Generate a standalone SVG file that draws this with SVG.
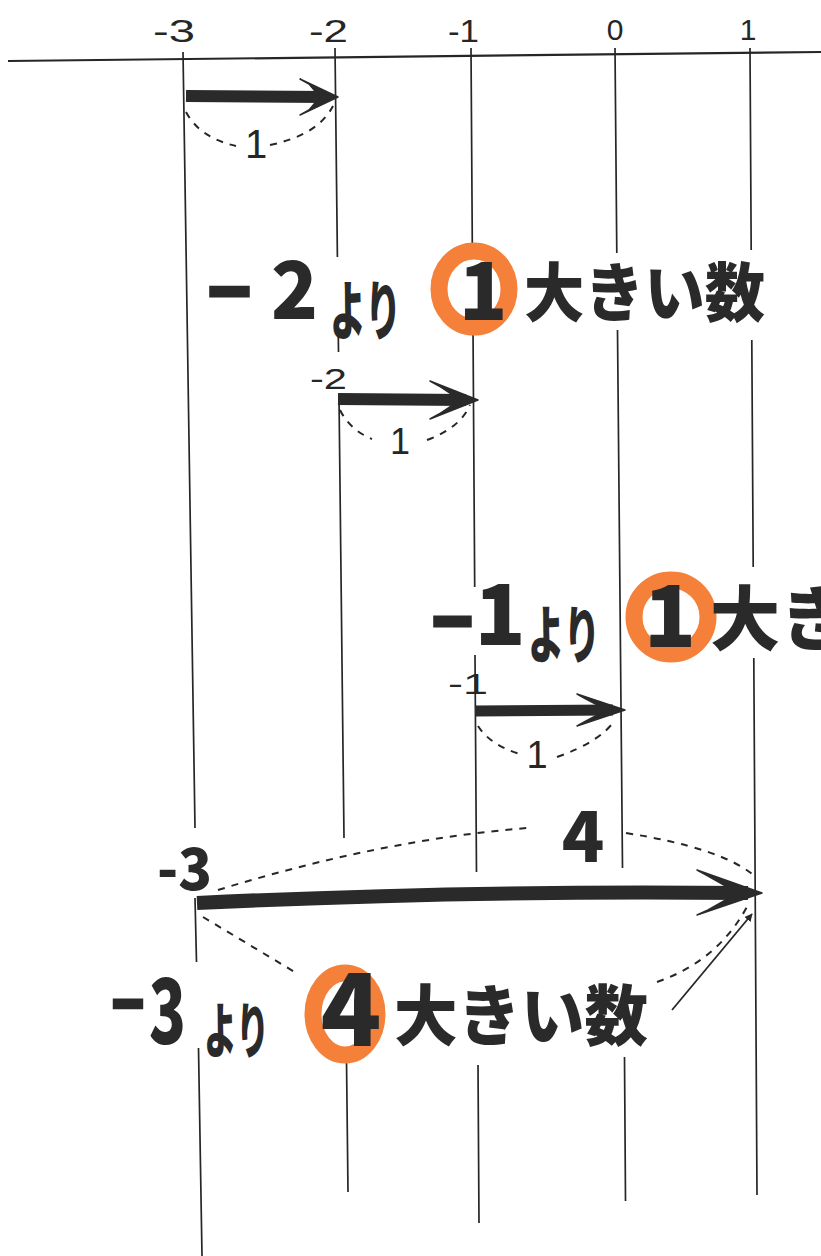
<svg xmlns="http://www.w3.org/2000/svg" width="821" height="1256" viewBox="0 0 821 1256">
  <style>
    .bg { fill: #ffffff; }
    .axis { stroke: #262626; stroke-width: 2.2; fill: none; }
    .grid { stroke: #262626; stroke-width: 1.7; fill: none; }
    .shaft { stroke: #2a2a2a; fill: none; stroke-linecap: butt; }
    .head { fill: #2a2a2a; stroke: #2a2a2a; stroke-width: 1.5; stroke-linejoin: round; }
    .dash { stroke: #262626; stroke-width: 2; fill: none; stroke-dasharray: 7 7; }
    .thin { stroke: #262626; stroke-width: 1.8; fill: none; }
    .ring { fill: none; stroke: #F5803A; stroke-width: 17; }
    .lbl { font-family: "Liberation Sans", "DejaVu Sans", sans-serif; fill: #262626; }
    .big { font-family: "Noto Sans CJK JP", "Noto Sans", sans-serif; font-weight: 900; fill: #2a2a2a; }
    .thick { stroke: #2a2a2a; stroke-width: 3; }
  </style>
  <defs>
    <marker id="tri" viewBox="0 0 10 10" refX="9" refY="5" markerWidth="8" markerHeight="8" orient="auto" markerUnits="userSpaceOnUse">
      <path d="M0,0 L10,5 L0,10 Z" fill="#262626"/>
    </marker>
  </defs>
  <rect class="bg" x="0" y="0" width="821" height="1256"/>

  <g id="number-line">
    <path class="axis" d="M8,61 L821,52"/>
    <text class="lbl" x="153" y="42" font-size="32" textLength="42" lengthAdjust="spacingAndGlyphs">-3</text>
    <text class="lbl" x="309" y="42" font-size="32" textLength="39" lengthAdjust="spacingAndGlyphs">-2</text>
    <text class="lbl" x="448" y="42" font-size="32" textLength="31" lengthAdjust="spacingAndGlyphs">-1</text>
    <text class="lbl" x="615" y="40" font-size="30" text-anchor="middle">0</text>
    <text class="lbl" x="748" y="40" font-size="30" text-anchor="middle">1</text>
  </g>

  <g id="guides">
    <path class="grid" d="M183,52 L195,828 M195,898 L196.5,962 M198.5,1048 L202,1256"/>
    <path class="grid" d="M335,48 L337.4,257 M338.2,328 L338.5,352 M339,397 L344,838 M346.5,1060 L348,1192"/>
    <path class="grid" d="M471,48 L472.3,243 M473,328 L474.7,587 M475,655 L476.5,872 M478,1065 L479,1223"/>
    <path class="grid" d="M615,48 L616.8,253 M617.5,330 L622.5,868 M624.5,1057 L625.5,1201"/>
    <path class="grid" d="M750,48 L751.2,250 M751.8,340 L753.2,567 M753.8,658 L757,1195"/>
  </g>

  <g id="connectors">
    <path class="shaft" stroke-width="12" d="M186,96 L326,97"/>
    <path class="head" d="M338,97 L300,79 L309,84 L320,97 L309,110 L300,115 Z"/>
    <path class="dash" d="M186,112 Q200,138 236,146 M270,145 Q318,135 333,106"/>

    <path class="shaft" stroke-width="12" d="M338,399 L466,400"/>
    <path class="head" d="M478,400 L430,381 L439,386 L460,400 L439,414 L430,419 Z"/>
    <path class="dash" d="M340,410 Q350,430 372,439 M427,440 Q460,428 470,405"/>

    <path class="shaft" stroke-width="11" d="M475,711 L613,710"/>
    <path class="head" d="M625,710 L577,694 L586,699 L607,710 L586,721 L577,726 Z"/>
    <path class="dash" d="M478,726 Q490,745 520,754 M557,757 Q600,742 615,720"/>

    <path class="shaft" stroke-width="14" d="M197,903 Q470,890 748,893"/>
    <path class="head" d="M762,893 L697,870 L708,876 L738,893 L708,910 L697,915 Z"/>
    <path class="dash" d="M218,890 Q380,840 527,828 M626,833 Q720,848 752,874"/>
    <path class="dash" d="M203,917 L298,974 M657,982 Q720,960 749,903"/>
    <path class="thin" d="M672,1010 L752,914" marker-end="url(#tri)"/>
  </g>

  <g id="step-labels">
    <text class="lbl" x="256" y="158" font-size="40" text-anchor="middle">1</text>
    <text class="lbl" x="310" y="389" font-size="30" textLength="37" lengthAdjust="spacingAndGlyphs">-2</text>
    <text class="lbl" x="400" y="454" font-size="36" text-anchor="middle">1</text>
    <text class="lbl" x="448" y="694" font-size="30" textLength="40" lengthAdjust="spacingAndGlyphs">-1</text>
    <text class="lbl" x="537" y="768" font-size="38" text-anchor="middle">1</text>
    <text class="big" x="157" y="890" font-size="58" textLength="55" lengthAdjust="spacingAndGlyphs">-3</text>
    <text class="big" x="583" y="862" font-size="70" text-anchor="middle">4</text>
  </g>

  <g id="row1">
    <ellipse class="ring" cx="474" cy="289" rx="35" ry="38"/>
    <text class="big thick" x="208" y="318" font-size="70" textLength="43" lengthAdjust="spacingAndGlyphs">−</text>
    <text class="big" x="271" y="319" font-size="80" textLength="47" lengthAdjust="spacingAndGlyphs">2</text>
    <text class="big" x="330" y="334" font-size="64" textLength="71" lengthAdjust="spacingAndGlyphs">より</text>
    <text class="big" x="483" y="320" font-size="80" text-anchor="middle">1</text>
    <text class="big" x="524" y="316" font-size="64" textLength="241" lengthAdjust="spacingAndGlyphs">大きい数</text>
  </g>

  <g id="row2">
    <ellipse class="ring" cx="671" cy="617" rx="37" ry="37"/>
    <text class="big thick" x="432" y="649" font-size="72" textLength="41" lengthAdjust="spacingAndGlyphs">−</text>
    <text class="big" x="500" y="645" font-size="84" text-anchor="middle">1</text>
    <text class="big" x="528" y="658" font-size="62" textLength="72" lengthAdjust="spacingAndGlyphs">より</text>
    <text class="big" x="670" y="647" font-size="86" text-anchor="middle">1</text>
    <text class="big" x="710" y="645" font-size="70">大き</text>
  </g>

  <g id="row3">
    <ellipse class="ring" cx="345" cy="1014" rx="32" ry="41"/>
    <text class="big thick" x="112" y="1027" font-size="62" textLength="32" lengthAdjust="spacingAndGlyphs">−</text>
    <text class="big" x="149" y="1044" font-size="90" textLength="37" lengthAdjust="spacingAndGlyphs">3</text>
    <text class="big" x="204" y="1053" font-size="60" textLength="65" lengthAdjust="spacingAndGlyphs">より</text>
    <text class="big" x="351" y="1046" font-size="100" text-anchor="middle">4</text>
    <text class="big" x="394" y="1040" font-size="66" textLength="254" lengthAdjust="spacingAndGlyphs">大きい数</text>
  </g>
</svg>
